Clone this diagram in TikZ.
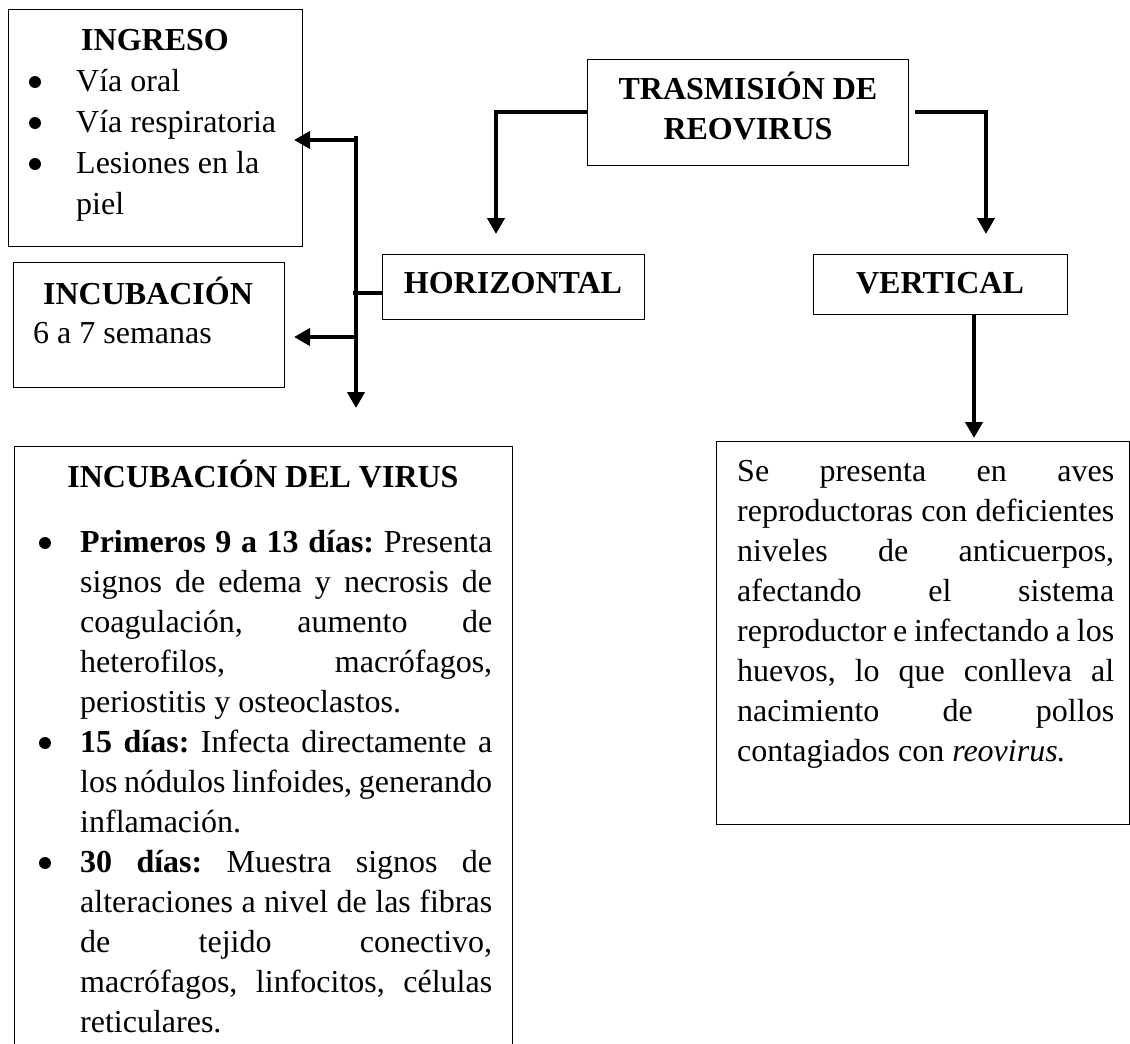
\documentclass[tikz,border=0pt]{standalone}
\usepackage{fontspec}
\setmainfont{Liberation Serif}
\usetikzlibrary{arrows.meta}
\frenchspacing
\begin{document}
\begin{tikzpicture}[x=1pt,y=-1pt,
  box/.style={draw=black, line width=1.3pt, inner sep=0pt, anchor=north west},
  conn/.style={line width=4pt},
  arr/.style={line width=4pt, -{Triangle[width=17pt,length=16pt]}},
  txt/.style={inner sep=0pt, font=\fontsize{32}{40}\selectfont},
  hdr/.style={inner sep=0pt, font=\fontsize{32}{40}\selectfont\bfseries},
  para/.style={inner sep=0pt, align=justify, font=\fontsize{32}{40}\selectfont,
    execute at begin node={\frenchspacing\tolerance=10000\hyphenpenalty=10000\exhyphenpenalty=10000\emergencystretch=0pt}},
  bul/.style={circle, fill=black, inner sep=0pt, minimum size=12pt}
]
\clip (0,0) rectangle (1130,1044);
\fill[white] (0,0) rectangle (1130,1044);

% boxes
\node[box, minimum width=294pt, minimum height=237pt] (ing) at (8,9) {};
\node[box, minimum width=271pt, minimum height=125pt] (inc) at (13,262) {};
\node[box, minimum width=321pt, minimum height=106pt] (trans) at (587,59) {};
\node[box, minimum width=262pt, minimum height=65pt] (hor) at (382,254) {};
\node[box, minimum width=254pt, minimum height=60pt] (ver) at (813,254) {};
\node[box, minimum width=498pt, minimum height=640pt] (virus) at (14,446) {};
\node[box, minimum width=413pt, minimum height=383pt] (rep) at (716,441) {};

% INGRESO
\node[hdr, anchor=base] (ingT) at (155,50) {INGRESO};
\node[bul] (ingb1) at (35,82) {};
\node[bul] (ingb2) at (35,123) {};
\node[bul] (ingb3) at (35,164) {};
\node[txt, anchor=base west] (ing1) at (76,91) {Vía oral};
\node[txt, anchor=base west] (ing2) at (76,132) {Vía respiratoria};
\node[txt, anchor=base west] (ing3) at (76,173) {Lesiones en la};
\node[txt, anchor=base west] (ing4) at (76,214) {piel};

% INCUBACION
\node[hdr, anchor=base] (incT) at (148,304) {INCUBACIÓN};
\node[txt, anchor=base west] (inc1) at (33,343) {6 a 7 semanas};

% TRASMISION
\node[hdr, anchor=base] (transT1) at (748,99) {TRASMISIÓN DE};
\node[hdr, anchor=base] (transT2) at (748,139) {REOVIRUS};

\node[hdr, anchor=base] (horT) at (513,293) {HORIZONTAL};
\node[hdr, anchor=base] (verT) at (940,293) {VERTICAL};

% INCUBACION DEL VIRUS
\node[hdr, anchor=base] (virusT) at (263,487) {INCUBACIÓN DEL VIRUS};
\node[bul] (vb1) at (45,543) {};
\node[bul] (vb2) at (45,743) {};
\node[bul] (vb3) at (45,863) {};
\node[para, text width=412pt, anchor=base west] (v1) at (80,552)
  {\textbf{Primeros 9 a 13 días:} Presenta\linebreak signos de edema y necrosis de\linebreak coagulación, aumento de\linebreak heterofilos, macrófagos,\linebreak periostitis y osteoclastos.};
\node[para, text width=412pt, anchor=base west] (v2) at (80,752)
  {\textbf{15 días:} Infecta directamente a\linebreak los nódulos linfoides, generando\linebreak inflamación.};
\node[para, text width=412pt, anchor=base west] (v3) at (80,872)
  {\textbf{30 días:} Muestra signos de\linebreak alteraciones a nivel de las fibras\linebreak de tejido conectivo,\linebreak macrófagos, linfocitos, células\linebreak reticulares.};

% VERTICAL text box
\node[para, text width=377pt, anchor=base west] (repT) at (737,481)
  {Se presenta en aves\linebreak reproductoras con deficientes\linebreak niveles de anticuerpos,\linebreak afectando el sistema\linebreak reproductor e infectando a los\linebreak huevos, lo que conlleva al\linebreak nacimiento de pollos\linebreak contagiados con \textit{reovirus.}};

% connectors
\coordinate (tl) at (496,234);
\coordinate (tr) at (986,234);
\draw[arr] ([yshift=1pt]trans.west) -| (tl);
\draw[arr] ([xshift=6pt,yshift=1pt]trans.east) -| (tr);

\coordinate (rt) at (974,438);
\draw[arr] (ver.south -| rt) -- (rt);

\coordinate (ttop) at (356,136);
\coordinate (tbot) at (356,408);
\coordinate (hj) at (353,293);
\coordinate (ia) at (294,140);
\coordinate (ca) at (294,337);
\draw[arr] (ttop) -- (tbot);
\draw[conn] (hor.west |- hj) -- (hj);
\draw[arr] (ttop |- ia) -- (ia);
\draw[arr] (ttop |- ca) -- (ca);
\end{tikzpicture}
\end{document}
